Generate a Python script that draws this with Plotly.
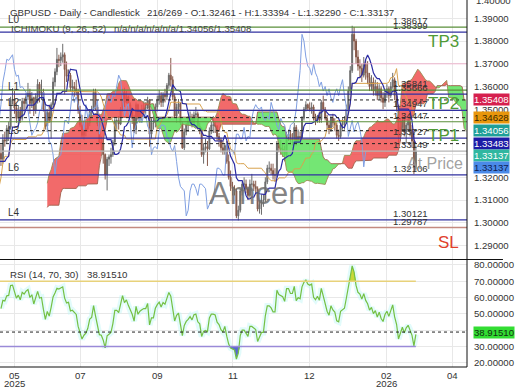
import plotly.graph_objects as go

# ---------------- data (daily GBPUSD bars) ----------------
# 53 earlier bars are used only to warm up the indicators, then 216 displayed candles.
WARMUP = 53
SHIFT = 26
first_open = 1.2700

highs = [
    # warm-up (Mar - mid May 2025)
    1.2790, 1.2900, 1.2920, 1.2945, 1.2935, 1.2955, 1.2980, 1.2990, 1.2965, 1.3000,
    1.3010, 1.3015, 1.3010, 1.2970, 1.2945, 1.2960, 1.2950, 1.2965, 1.2975, 1.2945,
    1.2945, 1.3040, 1.3207, 1.3145, 1.2960, 1.2845, 1.2960, 1.3000, 1.3100, 1.3200,
    1.3250, 1.3290, 1.3300, 1.3305, 1.3390, 1.3423, 1.3370, 1.3340, 1.3345, 1.3445,
    1.3440, 1.3410, 1.3335, 1.3320, 1.3325, 1.3400, 1.3400, 1.3360, 1.3310, 1.3310,
    1.3310, 1.3355, 1.3340,
    # displayed
    1.3345, 1.3390, 1.3400, 1.3430, 1.3445, 1.3555, 1.3593, 1.3580, 1.3525, 1.3515, 1.3510,
    1.3550, 1.3550, 1.3570, 1.3616, 1.3590, 1.3575, 1.3555, 1.3570, 1.3632, 1.3620,
    1.3630, 1.3590, 1.3530, 1.3500, 1.3520, 1.3530, 1.3640, 1.3680, 1.3770, 1.3740,
    1.3750, 1.3788, 1.3750, 1.3710, 1.3675, 1.3660, 1.3630, 1.3620, 1.3630, 1.3590,
    1.3515, 1.3475, 1.3435, 1.3445, 1.3460, 1.3500, 1.3515, 1.3590, 1.3590, 1.3520,
    1.3445, 1.3380, 1.3375, 1.3305, 1.3290, 1.3300, 1.3330, 1.3365, 1.3460, 1.3460,
    1.3470, 1.3510, 1.3590, 1.3595, 1.3580, 1.3560, 1.3530, 1.3505, 1.3475, 1.3530,
    1.3525, 1.3495, 1.3520, 1.3535, 1.3530, 1.3555, 1.3545, 1.3460, 1.3470, 1.3525,
    1.3560, 1.3585, 1.3575, 1.3575, 1.3590, 1.3615, 1.3660, 1.3726, 1.3645, 1.3570,
    1.3525, 1.3545, 1.3530, 1.3445, 1.3415, 1.3440, 1.3470, 1.3490, 1.3480, 1.3490,
    1.3510, 1.3490, 1.3440, 1.3420, 1.3350, 1.3370, 1.3360, 1.3420, 1.3445, 1.3470,
    1.3445, 1.3430, 1.3395, 1.3375, 1.3360, 1.3350, 1.3360, 1.3300, 1.3230, 1.3180,
    1.3165, 1.3150, 1.3075, 1.3150, 1.3180, 1.3200, 1.3190, 1.3160, 1.3190, 1.3215,
    1.3185, 1.3185, 1.3160, 1.3100, 1.3125, 1.3125, 1.3200, 1.3255, 1.3270, 1.3260,
    1.3260, 1.3240, 1.3360, 1.3385, 1.3365, 1.3350, 1.3340, 1.3400, 1.3410, 1.3405,
    1.3395, 1.3440, 1.3430, 1.3410, 1.3400, 1.3470, 1.3510, 1.3535, 1.3525, 1.3530,
    1.3530, 1.3520, 1.3480, 1.3475, 1.3490, 1.3540, 1.3560, 1.3510, 1.3475, 1.3450,
    1.3470, 1.3480, 1.3460, 1.3440, 1.3410, 1.3440, 1.3460, 1.3470, 1.3520, 1.3600,
    1.3690, 1.38676, 1.3862, 1.3810, 1.3760, 1.3720, 1.3700, 1.3730, 1.3715, 1.37116,
    1.3660, 1.3650, 1.3640, 1.3630, 1.3620, 1.3610, 1.3600, 1.3575, 1.3590, 1.3610,
    1.3600, 1.3620, 1.3660, 1.3640, 1.3570, 1.3520, 1.3455, 1.34826, 1.3470, 1.3440,
    1.3470, 1.3460, 1.3430, 1.3390, 1.33394,
]

lows = [
    1.2690, 1.2745, 1.2860, 1.2860, 1.2860, 1.2870, 1.2930, 1.2940, 1.2910, 1.2920,
    1.2975, 1.2965, 1.2940, 1.2885, 1.2890, 1.2900, 1.2860, 1.2875, 1.2925, 1.2875,
    1.2880, 1.2875, 1.3000, 1.2860, 1.2709, 1.2720, 1.2710, 1.2870, 1.2950, 1.3080,
    1.3165, 1.3195, 1.3225, 1.3260, 1.3280, 1.3320, 1.3200, 1.3235, 1.3285, 1.3300,
    1.3375, 1.3310, 1.3260, 1.3265, 1.3255, 1.3290, 1.3320, 1.3210, 1.3220, 1.3140,
    1.3170, 1.3250, 1.3250,
    1.3250, 1.3260, 1.3335, 1.3350, 1.3360, 1.3410, 1.3520, 1.3480, 1.3440, 1.3420, 1.3440,
    1.3450, 1.3490, 1.3505, 1.3540, 1.3480, 1.3505, 1.3470, 1.3480, 1.3525, 1.3530,
    1.3540, 1.3490, 1.3410, 1.3400, 1.3440, 1.3370, 1.3510, 1.3600, 1.3650, 1.3685,
    1.3690, 1.3705, 1.3565, 1.3620, 1.3625, 1.3580, 1.3560, 1.3555, 1.3560, 1.3480,
    1.3420, 1.3375, 1.3365, 1.3380, 1.3400, 1.3425, 1.3460, 1.3495, 1.3495, 1.3425,
    1.3350, 1.3320, 1.3260, 1.3190, 1.3142, 1.3250, 1.3260, 1.3290, 1.3340, 1.3410,
    1.3410, 1.3430, 1.3490, 1.3510, 1.3525, 1.3500, 1.3480, 1.3435, 1.3395, 1.3390,
    1.3450, 1.3440, 1.3450, 1.3480, 1.3480, 1.3500, 1.3335, 1.3370, 1.3410, 1.3420,
    1.3490, 1.3520, 1.3510, 1.3510, 1.3530, 1.3540, 1.3590, 1.3600, 1.3540, 1.3465,
    1.3440, 1.3480, 1.3430, 1.3325, 1.3320, 1.3385, 1.3400, 1.3430, 1.3420, 1.3425,
    1.3450, 1.3410, 1.3390, 1.3290, 1.3260, 1.3310, 1.3250, 1.3320, 1.3390, 1.3395,
    1.3395, 1.3360, 1.3335, 1.3310, 1.3300, 1.3300, 1.3260, 1.3190, 1.3140, 1.3120,
    1.3120, 1.3020, 1.3010, 1.3045, 1.3120, 1.3140, 1.3130, 1.3100, 1.3110, 1.3140,
    1.3140, 1.3130, 1.3050, 1.3040, 1.3035, 1.3070, 1.3090, 1.3170, 1.3220, 1.3210,
    1.3190, 1.3180, 1.3200, 1.3310, 1.3300, 1.3290, 1.3270, 1.3290, 1.3360, 1.3345,
    1.3340, 1.3360, 1.3340, 1.3350, 1.3360, 1.3370, 1.3450, 1.3490, 1.3495, 1.3490,
    1.3480, 1.3450, 1.3430, 1.3440, 1.3440, 1.3440, 1.3490, 1.3450, 1.3410, 1.3390,
    1.3400, 1.3420, 1.3405, 1.3370, 1.3360, 1.3370, 1.3410, 1.3410, 1.3435, 1.3490,
    1.3570, 1.3660, 1.3760, 1.3700, 1.3670, 1.3640, 1.3620, 1.3640, 1.3630, 1.3610,
    1.3580, 1.3580, 1.3560, 1.3560, 1.3540, 1.3540, 1.3530, 1.3500, 1.3510, 1.3550,
    1.3530, 1.3550, 1.3590, 1.3540, 1.3490, 1.3340, 1.3360, 1.3400, 1.3380, 1.3350,
    1.3400, 1.3380, 1.3330, 1.3214, 1.32290,
]

closes = [
    1.2765, 1.2890, 1.2885, 1.2920, 1.2880, 1.2945, 1.2960, 1.2955, 1.2935, 1.2990,
    1.2995, 1.3005, 1.2960, 1.2915, 1.2920, 1.2945, 1.2885, 1.2950, 1.2945, 1.2915,
    1.2920, 1.3010, 1.3100, 1.2895, 1.2750, 1.2770, 1.2930, 1.2960, 1.3085, 1.3185,
    1.3235, 1.3265, 1.3270, 1.3290, 1.3375, 1.3335, 1.3255, 1.3330, 1.3315, 1.3435,
    1.3400, 1.3330, 1.3285, 1.3275, 1.3300, 1.3360, 1.3340, 1.3250, 1.3300, 1.3180,
    1.3300, 1.3315, 1.3305,
    1.3280, 1.3365, 1.3360, 1.3415, 1.3420, 1.3540, 1.3545, 1.3505, 1.3460, 1.3490, 1.3460,
    1.3535, 1.3525, 1.3555, 1.3570, 1.3525, 1.3550, 1.3495, 1.3555, 1.3610, 1.3570,
    1.3575, 1.3500, 1.3425, 1.3485, 1.3450, 1.3520, 1.3620, 1.3665, 1.3720, 1.3715,
    1.3730, 1.3740, 1.3675, 1.3645, 1.3650, 1.3595, 1.3600, 1.3590, 1.3575, 1.3495,
    1.3430, 1.3385, 1.3405, 1.3415, 1.3440, 1.3490, 1.3500, 1.3575, 1.3510, 1.3435,
    1.3355, 1.3350, 1.3300, 1.3210, 1.3280, 1.3290, 1.3300, 1.3355, 1.3450, 1.3450,
    1.3435, 1.3500, 1.3575, 1.3530, 1.3555, 1.3520, 1.3490, 1.3460, 1.3410, 1.3520,
    1.3460, 1.3485, 1.3495, 1.3505, 1.3505, 1.3540, 1.3390, 1.3440, 1.3440, 1.3510,
    1.3540, 1.3560, 1.3530, 1.3565, 1.3555, 1.3605, 1.3650, 1.3630, 1.3555, 1.3470,
    1.3510, 1.3525, 1.3440, 1.3330, 1.3400, 1.3430, 1.3445, 1.3465, 1.3440, 1.3475,
    1.3480, 1.3425, 1.3410, 1.3300, 1.3330, 1.3335, 1.3325, 1.3405, 1.3430, 1.3430,
    1.3425, 1.3380, 1.3365, 1.3330, 1.3315, 1.3340, 1.3270, 1.3200, 1.3160, 1.3150,
    1.3140, 1.3030, 1.3055, 1.3140, 1.3170, 1.3170, 1.3150, 1.3120, 1.3170, 1.3170,
    1.3160, 1.3150, 1.3060, 1.3080, 1.3100, 1.3100, 1.3180, 1.3240, 1.3240, 1.3230,
    1.3210, 1.3210, 1.3350, 1.3330, 1.3325, 1.3320, 1.3300, 1.3390, 1.3390, 1.3370,
    1.3370, 1.3420, 1.3360, 1.3380, 1.3375, 1.3460, 1.3500, 1.3520, 1.3505, 1.3500,
    1.3510, 1.3460, 1.3450, 1.3470, 1.3455, 1.3530, 1.3500, 1.3460, 1.3430, 1.3410,
    1.3460, 1.3440, 1.3430, 1.3385, 1.3380, 1.3430, 1.3440, 1.3445, 1.3500, 1.3580,
    1.3670, 1.3830, 1.3800, 1.3730, 1.3690, 1.3680, 1.3650, 1.3700, 1.3660, 1.3640,
    1.3600, 1.3620, 1.3580, 1.3600, 1.3560, 1.3590, 1.3550, 1.3530, 1.3570, 1.3590,
    1.3560, 1.3600, 1.3630, 1.3560, 1.3510, 1.3380, 1.3420, 1.3450, 1.3400, 1.3430,
    1.3445, 1.3410, 1.3360, 1.32461, 1.33137,
]

levels_green = [1.38617, 1.35841, 1.34447]
levels_navy = [1.38399, 1.35666, 1.34947, 1.33727, 1.32106, 1.30121]
levels_grey = [1.33149]
levels_sl = [1.29787]
levels_pink = [1.37000]
level_numbers = [1.38617, 1.38399, 1.35841, 1.35666, 1.34947, 1.34447,
                 1.33727, 1.33149, 1.32106, 1.30121, 1.29787]
tag_names = ["L0", "L1", "L2", "L3", "L6", "L4"]
tag_levels = [1.38617, 1.35666, 1.34947, 1.33727, 1.32106, 1.30121]
target_names = ["TP3", "TP2", "TP1", "SL"]
target_prices = [1.3800, 1.3527, 1.3386, 1.2915]
target_colors = ["#4f9a36", "#4f9a36", "#4f9a36", "#e0402a"]

x_tick_bars = [7, 41, 81, 120, 160, 200, 234]
x_tick_month = ["05", "07", "09", "11", "12", "02", "04"]
x_tick_year = ["2025", "", "", "", "", "2026", ""]
price_ticks = [1.28, 1.29, 1.30, 1.31, 1.32, 1.33, 1.34, 1.35, 1.36, 1.37, 1.38, 1.39]
rsi_ticks = [20, 30, 40, 50, 60, 70, 80]
rsi_last = 38.91510
RSI_N, RSI_HI, RSI_LO = 14, 70, 30

assert len(highs) == len(lows) == len(closes)

# ---------------- indicators ----------------
n = len(closes)
opens = [first_open] + closes[:-1]
ND = n - WARMUP


def mid(i, p):
    if i < p - 1:
        return None
    return (max(highs[i - p + 1:i + 1]) + min(lows[i - p + 1:i + 1])) / 2


tenkan = [mid(i, 9) for i in range(n)]
kijun = [mid(i, 26) for i in range(n)]
spanA = [(t + k) / 2 if (t is not None and k is not None) else None for t, k in zip(tenkan, kijun)]
spanB = [mid(i, 52) for i in range(n)]

# Wilder RSI
rsi = [None] * n
ch = [closes[i] - closes[i - 1] for i in range(1, n)]
ag = sum(max(c, 0) for c in ch[:RSI_N]) / RSI_N
al = sum(max(-c, 0) for c in ch[:RSI_N]) / RSI_N
rsi[RSI_N] = 100 - 100 / (1 + ag / al) if al > 0 else 100
for i in range(RSI_N + 1, n):
    c = ch[i - 1]
    ag = (ag * (RSI_N - 1) + max(c, 0)) / RSI_N
    al = (al * (RSI_N - 1) + max(-c, 0)) / RSI_N
    rsi[i] = 100 - 100 / (1 + ag / al) if al > 0 else 100


def f5(v):
    return f"{v + 1e-9:.5f}"


FONT = "Liberation Sans, Arial, sans-serif"
AX_FS = 9.6
fig = go.Figure()

# ---------------- cloud ----------------
pts = [(i - WARMUP + SHIFT, spanA[i], spanB[i]) for i in range(n)
       if spanA[i] is not None and spanB[i] is not None]
segments = []
cur = [pts[0]]
for k in range(1, len(pts)):
    x0, a0, b0 = pts[k - 1]
    x1, a1, b1 = pts[k]
    s0, s1 = a0 >= b0, a1 >= b1
    if s0 != s1:
        t = (a0 - b0) / ((a0 - b0) - (a1 - b1))
        xc, yc = x0 + t * (x1 - x0), a0 + t * (a1 - a0)
        cur.append((xc, yc, yc))
        segments.append((s0, cur))
        cur = [(xc, yc, yc)]
    cur.append(pts[k])
segments.append((cur[-1][1] >= cur[-1][2], cur))
for up, seg in segments:
    xs = [p[0] for p in seg]
    fig.add_trace(go.Scatter(
        x=xs + xs[::-1], y=[p[1] for p in seg] + [p[2] for p in seg][::-1],
        fill="toself", mode="lines", line=dict(width=0),
        fillcolor="rgba(240,80,80,0.85)" if up else "rgba(92,226,92,0.85)",
        hoverinfo="skip", showlegend=False))

xc_ = [p[0] for p in pts]
fig.add_trace(go.Scatter(x=xc_, y=[p[1] for p in pts], mode="lines",
                         line=dict(color="#9c8a52", width=0.9), showlegend=False))
fig.add_trace(go.Scatter(x=xc_, y=[p[2] for p in pts], mode="lines",
                         line=dict(color="#a0624e", width=0.9), showlegend=False))

# ---------------- candles ----------------
xb = list(range(ND))
fig.add_trace(go.Candlestick(
    x=xb, open=opens[WARMUP:], high=highs[WARMUP:], low=lows[WARMUP:], close=closes[WARMUP:],
    increasing=dict(line=dict(color="#6b6b6b", width=1), fillcolor="#6b6b6b"),
    decreasing=dict(line=dict(color="#86594a", width=1), fillcolor="#86594a"),
    whiskerwidth=0, showlegend=False))

# ---------------- ichimoku lines ----------------
fig.add_trace(go.Scatter(x=[i - WARMUP - SHIFT for i in range(n)], y=closes, mode="lines",
                         line=dict(color="#7f9fe2", width=1), showlegend=False))
fig.add_trace(go.Scatter(x=[i - WARMUP for i in range(n)], y=kijun, mode="lines",
                         line=dict(color="#d8a24e", width=1), showlegend=False))
fig.add_trace(go.Scatter(x=[i - WARMUP for i in range(n)], y=tenkan, mode="lines",
                         line=dict(color="#2b2ba3", width=1.2), showlegend=False))

# ---------------- RSI panel ----------------
rd = rsi[WARMUP:]
fig.add_trace(go.Scatter(x=xb, y=rd, mode="lines", xaxis="x2", yaxis="y2",
                         line=dict(color="rgba(190,246,246,0.45)", width=6), showlegend=False))
fig.add_trace(go.Scatter(x=xb, y=[RSI_HI] * ND, mode="lines", xaxis="x2", yaxis="y2",
                         line=dict(width=0), showlegend=False))
fig.add_trace(go.Scatter(x=xb, y=[max(v, RSI_HI) for v in rd], mode="lines", xaxis="x2", yaxis="y2",
                         fill="tonexty", fillcolor="#c8d83a", line=dict(width=0), showlegend=False))
fig.add_trace(go.Scatter(x=xb, y=[RSI_LO] * ND, mode="lines", xaxis="x2", yaxis="y2",
                         line=dict(width=0), showlegend=False))
fig.add_trace(go.Scatter(x=xb, y=[min(v, RSI_LO) for v in rd], mode="lines", xaxis="x2", yaxis="y2",
                         fill="tonexty", fillcolor="#5a6ad0", line=dict(width=0), showlegend=False))
fig.add_trace(go.Scatter(x=xb, y=rd, mode="lines", xaxis="x2", yaxis="y2",
                         line=dict(color="#74c043", width=1.2), showlegend=False))

# ---------------- shapes ----------------
shapes = []


def hline(y, color, width=1.2, dash="solid", yref="y"):
    shapes.append(dict(type="line", xref="paper", yref=yref, x0=0, x1=1, y0=y, y1=y,
                       line=dict(color=color, width=width, dash=dash), layer="above"))


for v in levels_pink:
    hline(v, "rgba(240,170,200,0.8)", 1)
for v in levels_green:
    hline(v, "#5a8f3a")
for v in levels_navy:
    hline(v, "#3030a0")
for v in levels_grey:
    hline(v, "#b4b4b4")
for v in levels_sl:
    hline(v, "#c48a80", 1.6)

cur_vals = [tenkan[-1], kijun[-1], spanA[-1], spanB[-1]]
for v in cur_vals:
    hline(v, "#222222", 1, "3px,3px")
hline(rsi_last, "#222222", 1, "3px,3px", yref="y2")
for v, c in [(RSI_HI, "#e8d27a"), (RSI_LO, "#9a8ad8")]:
    shapes.append(dict(type="line", xref="x2", yref="y2", x0=-0.5, x1=ND - 1, y0=v, y1=v,
                       line=dict(color=c, width=1.5), layer="above"))

# frame
shapes.append(dict(type="line", xref="paper", yref="paper", x0=1, x1=1, y0=0, y1=1,
                   line=dict(color="#111", width=1)))
shapes.append(dict(type="line", xref="paper", yref="paper", x0=0, x1=1, y0=0, y1=0,
                   line=dict(color="#111", width=1)))
shapes.append(dict(type="line", xref="paper", yref="paper", x0=0, x1=1.077, y0=0.2929, y1=0.2929,
                   line=dict(color="#111", width=1)))

# ---------------- annotations ----------------
ann = []
W, H = 467.0, 367.0


def ptxt(px, py, text, size=10, color="#333", xanchor="left", **kw):
    ann.append(dict(xref="paper", yref="paper", x=px / W, y=1 - py / H, text=text,
                    showarrow=False, xanchor=xanchor, yanchor="middle",
                    font=dict(family=FONT, size=size, color=color), **kw))


TFS = 9.7
ptxt(8, 12, "GBPUSD - Daily - Candlestick", TFS, "#333")
ptxt(145, 12, f"{ND}/{n} - O:{f5(opens[-1])} - H:{f5(highs[-1])} - L:{f5(lows[-1])} - C:{f5(closes[-1])}",
     TFS, "#333")
ptxt(9, 29, "ICHIMOKU (9, 26, 52)", TFS, "#444")
ptxt(112, 29, f"n/a/n/a/n/a/n/a/{f5(spanA[-1])}/{f5(spanB[-1])}", TFS, "#444")
ptxt(8, 274, "RSI (14, 70, 30)", TFS, "#333")
ptxt(85, 274, f5(rsi_last), TFS, "#333")
ptxt(257, 193, "Amcen", 31, "rgba(110,110,110,0.85)", xanchor="center")

# x axis labels (month / year)
for b, m, yr in zip(x_tick_bars, x_tick_month, x_tick_year):
    ann.append(dict(xref="x2", yref="paper", x=b, y=1 - 375 / H, text=m, showarrow=False,
                    xanchor="center", yanchor="middle", font=dict(family=FONT, size=AX_FS, color="#333")))
    if yr:
        ann.append(dict(xref="x2", yref="paper", x=b, y=1 - 384 / H, text=yr, showarrow=False,
                        xanchor="center", yanchor="middle",
                        font=dict(family=FONT, size=AX_FS, color="#333")))

for name, lv in zip(tag_names, tag_levels):
    ann.append(dict(xref="paper", yref="y", x=6 / W, y=lv, text=name, showarrow=False,
                    xanchor="left", yanchor="bottom", font=dict(family=FONT, size=10, color="#333")))
for lv in level_numbers:
    ann.append(dict(xref="paper", yref="y", x=391 / W, y=lv, text=f5(lv), showarrow=False,
                    xanchor="left", yanchor="bottom", yshift=-1,
                    font=dict(family=FONT, size=9.6, color="#333")))
for name, pr, col in zip(target_names, target_prices, target_colors):
    ann.append(dict(xref="paper", yref="y", x=461 / W, y=pr, text=name, showarrow=False,
                    xanchor="right", yanchor="middle", font=dict(family=FONT, size=17, color=col)))
ann.append(dict(xref="paper", yref="y", x=405 / W, y=1.3259, text="At Price", showarrow=False,
                xanchor="left", yanchor="middle",
                font=dict(family=FONT, size=16, color="rgba(150,150,150,0.9)")))

# axis labels partly cut at the panel edges
ann.append(dict(xref="paper", yref="paper", x=1 + 7 / W, y=1.0, text="1.40000", showarrow=False,
                xanchor="left", yanchor="middle", font=dict(family=FONT, size=AX_FS, color="#333")))
ann.append(dict(xref="paper", yref="y", x=1 + 7 / W, y=1.2840, text="1.28000", showarrow=False,
                xanchor="left", yanchor="middle", font=dict(family=FONT, size=AX_FS, color="#333")))

# value boxes on the right axis
boxes = [
    (spanB[-1], "#d6204e", "white", 0),
    (kijun[-1], "#e8960c", "#3a2a00", 0),
    (spanA[-1], "#1f9f98", "white", 0),
    (tenkan[-1], "#1c1ca6", "white", 0),
    (closes[-1], "#2fb7a0", "white", -4),
    (closes[-1], "#4a8ae8", "#102050", -16),
]
for v, bg, fg, ys in boxes:
    ann.append(dict(xref="paper", yref="y", x=1 + 6 / W, y=v, text=f5(v), showarrow=False,
                    xanchor="left", yanchor="middle", yshift=ys, bgcolor=bg, borderpad=0,
                    font=dict(family=FONT, size=AX_FS, color=fg)))
ann.append(dict(xref="paper", yref="y2", x=1 + 6 / W, y=rsi_last, text=f5(rsi_last), showarrow=False,
                xanchor="left", yanchor="middle", bgcolor="#33dd33", borderpad=0,
                font=dict(family=FONT, size=AX_FS, color="#103010")))

# ---------------- layout ----------------
axis_common = dict(showline=False, zeroline=False, gridcolor="#e8e8e8", gridwidth=1, automargin=False)
fig.update_layout(
    width=520, height=390,
    margin=dict(l=0, r=53, t=0, b=23, autoexpand=False),
    paper_bgcolor="white", plot_bgcolor="white",
    showlegend=False,
    font=dict(family=FONT, size=10, color="#333"),
    xaxis=dict(domain=[0, 1], anchor="y", range=[-0.5, 241.5], tickmode="array",
               tickvals=x_tick_bars, showticklabels=False,
               rangeslider=dict(visible=False), **axis_common),
    xaxis2=dict(domain=[0, 1], anchor="y2", matches="x", range=[-0.5, 241.5], tickmode="array",
                tickvals=x_tick_bars, showticklabels=False, ticks="", **axis_common),
    yaxis=dict(domain=[0.29428, 1], anchor="x", side="right", range=[1.28401, 1.39811],
               tickmode="array", tickvals=price_ticks, ticktext=[f5(v) for v in price_ticks],
               ticks="", ticklabelstandoff=6,
               tickfont=dict(family=FONT, size=AX_FS, color="#333"), **axis_common),
    yaxis2=dict(domain=[0, 0.29155], anchor="x2", side="right", range=[17.5, 83.06],
                tickmode="array", tickvals=rsi_ticks, ticktext=[f5(v) for v in rsi_ticks],
                ticks="", ticklabelstandoff=6,
                tickfont=dict(family=FONT, size=AX_FS, color="#333"), **axis_common),
    shapes=shapes,
    annotations=ann,
)

fig.write_html("out.html", config={"displayModeBar": False},
               post_script="document.body.style.margin='0px';")
